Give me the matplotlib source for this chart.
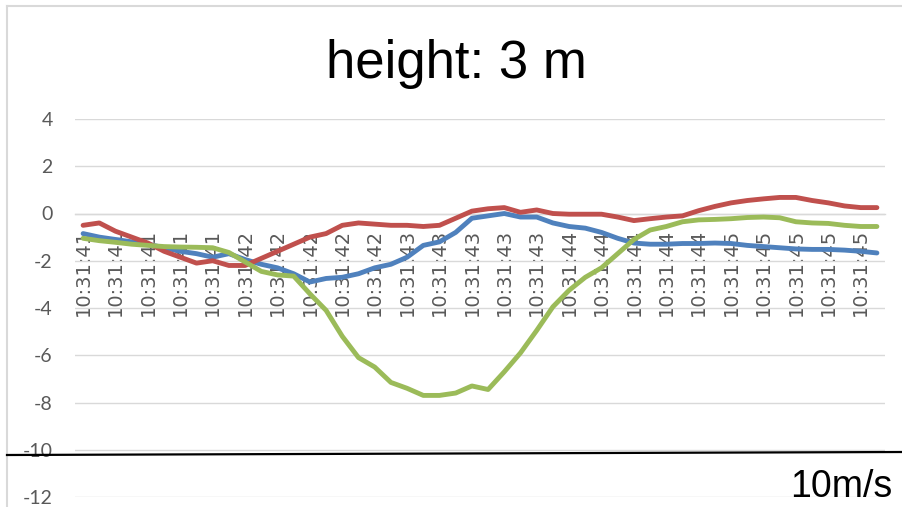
import matplotlib
matplotlib.use("Agg")
import matplotlib.pyplot as plt
from matplotlib.lines import Line2D

# Time stamps (10 samples per second), only every second one is labelled
seconds = [41, 42, 43, 44, 45]
samples_per_second = 10
categories = [f"10:31:{s}" for s in seconds for _ in range(samples_per_second)]

blue_values = [-0.85, -1.0, -1.1, -1.2, -1.3, -1.45, -1.6, -1.7, -1.85, -1.7,
               -1.95, -2.15, -2.3, -2.55, -2.9, -2.75, -2.7, -2.55, -2.3, -2.15,
               -1.85, -1.35, -1.2, -0.8, -0.2, -0.1, 0.0, -0.15, -0.15, -0.4,
               -0.55, -0.62, -0.8, -1.05, -1.25, -1.3, -1.3, -1.27, -1.27, -1.25,
               -1.27, -1.35, -1.4, -1.45, -1.5, -1.52, -1.52, -1.55, -1.6, -1.67]

red_values = [-0.5, -0.4, -0.75, -1.0, -1.25, -1.6, -1.85, -2.1, -2.0, -2.2,
              -2.2, -1.9, -1.6, -1.3, -1.0, -0.85, -0.5, -0.4, -0.45, -0.5,
              -0.5, -0.55, -0.5, -0.2, 0.1, 0.2, 0.25, 0.05, 0.15, 0.0,
              -0.03, -0.03, -0.03, -0.15, -0.3, -0.22, -0.15, -0.1, 0.12, 0.3,
              0.45, 0.55, 0.62, 0.68, 0.68, 0.55, 0.45, 0.32, 0.25, 0.25]

green_values = [-1.05, -1.15, -1.22, -1.3, -1.35, -1.4, -1.42, -1.43, -1.45, -1.65,
                -2.05, -2.45, -2.6, -2.65, -3.4, -4.1, -5.2, -6.1, -6.5, -7.15,
                -7.4, -7.7, -7.7, -7.6, -7.3, -7.45, -6.7, -5.9, -4.95, -3.95,
                -3.25, -2.7, -2.3, -1.7, -1.1, -0.7, -0.55, -0.35, -0.27, -0.25,
                -0.22, -0.17, -0.15, -0.18, -0.35, -0.4, -0.42, -0.5, -0.55, -0.55]

y_ticks = [-12, -10, -8, -6, -4, -2, 0, 2, 4]
title_text = "height: 3 m"
scale_text = "10m/s"

W, H = 903, 507
fig = plt.figure(figsize=(W / 100, H / 100), dpi=100)
fig.patch.set_facecolor("white")


def fx(x):
    return x / W


def fy(y):
    return 1 - y / H


# plot area
ax = fig.add_axes([fx(75), fy(497), (885 - 75) / W, (497 - 119) / H])
x = list(range(len(categories)))
line_kw = dict(lw=3.5, solid_joinstyle="round", solid_capstyle="round")
ax.plot(x, blue_values, color="#4F81BD", zorder=3, **line_kw)
ax.plot(x, red_values, color="#C0504D", zorder=4, **line_kw)
ax.plot(x, green_values, color="#9BBB59", zorder=5, **line_kw)

ax.set_xlim(-0.5, len(categories) - 0.5)
ax.set_ylim(-12, 4)
ax.set_yticks(y_ticks)
ax.set_yticklabels([str(v) for v in y_ticks])
ax.grid(axis="y", color="#d9d9d9", lw=1.0)
ax.set_axisbelow(True)

for side in ["top", "right", "left"]:
    ax.spines[side].set_visible(False)
ax.spines["bottom"].set_position(("data", 0))
ax.spines["bottom"].set_color("#d9d9d9")
ax.spines["bottom"].set_linewidth(1.0)

label_idx = list(range(0, len(categories), 2))
ax.set_xticks(label_idx)
ax.set_xticklabels([categories[i] for i in label_idx], rotation=90,
                   family="DejaVu Sans", fontsize=14, color="#595959")
ax.tick_params(axis="x", length=0, pad=11)
ax.tick_params(axis="y", length=0, pad=16, labelsize=14, labelcolor="#595959")
for t in ax.get_yticklabels():
    t.set_family("Lato")

# chart border
fig.add_artist(Line2D([fx(7), fx(7)], [fy(6), fy(507)], color="#d9d9d9",
                      lw=1.5, transform=fig.transFigure))
fig.add_artist(Line2D([fx(7), fx(903)], [fy(6), fy(6)], color="#d9d9d9",
                      lw=1.5, transform=fig.transFigure))

# reference line and scale
fig.add_artist(Line2D([fx(7), fx(903)], [fy(455), fy(452)], color="black",
                      lw=1.6, transform=fig.transFigure, zorder=10))
fig.text(fx(892), fy(497), scale_text, family="Liberation Sans", fontsize=27,
         ha="right", va="baseline", color="black")

fig.text(fx(456), fy(78), title_text, family="Liberation Sans", fontsize=38,
         ha="center", va="baseline", color="black")

fig.savefig("out.png", dpi=100)
